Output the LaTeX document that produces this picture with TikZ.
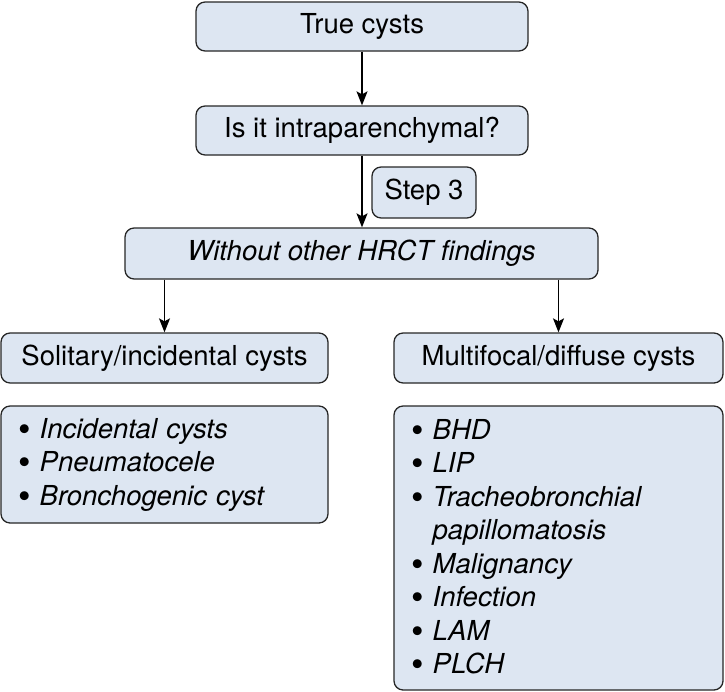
\documentclass[tikz,border=0pt]{standalone}
\usepackage{fontspec}
\setmainfont{TeX Gyre Heros}
\usetikzlibrary{positioning,arrows.meta}
\definecolor{boxfill}{RGB}{221,230,242}
\newcommand{\bdot}{\raisebox{-3.2pt}{\scalebox{1.3}{\textbullet}}}
\newcommand{\bitem}[1]{\bdot\ \textit{#1}}
\newcommand{\bcont}[1]{\hphantom{\bdot\ }\textit{#1}}
\tikzset{
  >={Stealth[length=14pt,width=11pt,inset=3pt]},
  my box/.style={
    draw=black!85,
    fill=boxfill,
    rounded corners=3.2mm,
    line width=1.3pt,
    inner sep=0pt,
    font=\fontsize{27.5}{33.5}\selectfont
  },
  my list/.style={
    my box,
    align=left,
    inner xsep=17pt,
    text width=#1
  }
}

\begin{document}
\begin{tikzpicture}[x=1pt,y=-1pt,line width=1.3pt]
\useasboundingbox (0,0) rectangle (725,691);
% Top of the tree
\node[my box,minimum width=332pt,minimum height=49pt] (true)  at (362,26.5)  {True cysts};
\node[my box,minimum width=332pt,minimum height=49pt] (intra) at (362,130.5) {Is it intraparenchymal?};
\draw[->] (true) -- (intra);
% Step 3
\node[my box,minimum width=104pt,minimum height=51pt] (step)    at (424,192.5)   {Step 3};
\node[my box,minimum width=473pt,minimum height=51pt] (without) at (361.5,253.5) {\itshape Without other HRCT findings};
\draw[->] (intra) -- (intra |- without.north);
% Two branches
\node[my box,minimum width=327pt,minimum height=50pt] (solitary) at (164.5,358) {Solitary/incidental cysts};
\node[my box,minimum width=329pt,minimum height=50pt] (multi)    at (558.5,358) {Multifocal/diffuse cysts};
\draw[->] (without.south -| solitary) -- (solitary);
\draw[->] (without.south -| multi) -- (multi);
% Lists
\node[my list=293pt,minimum height=117pt] (sollist) at (164.5,464.5)
  {\bitem{Incidental cysts}\\ \bitem{Pneumatocele}\\ \bitem{Bronchogenic cyst}};
\node[my list=295pt,minimum height=284pt] (multlist) at (558.5,548)
  {\bitem{BHD}\\ \bitem{LIP}\\ \bitem{Tracheobronchial}\\ \bcont{papillomatosis}\\
   \bitem{Malignancy}\\ \bitem{Infection}\\ \bitem{LAM}\\ \bitem{PLCH}};
\end{tikzpicture}
\end{document}
